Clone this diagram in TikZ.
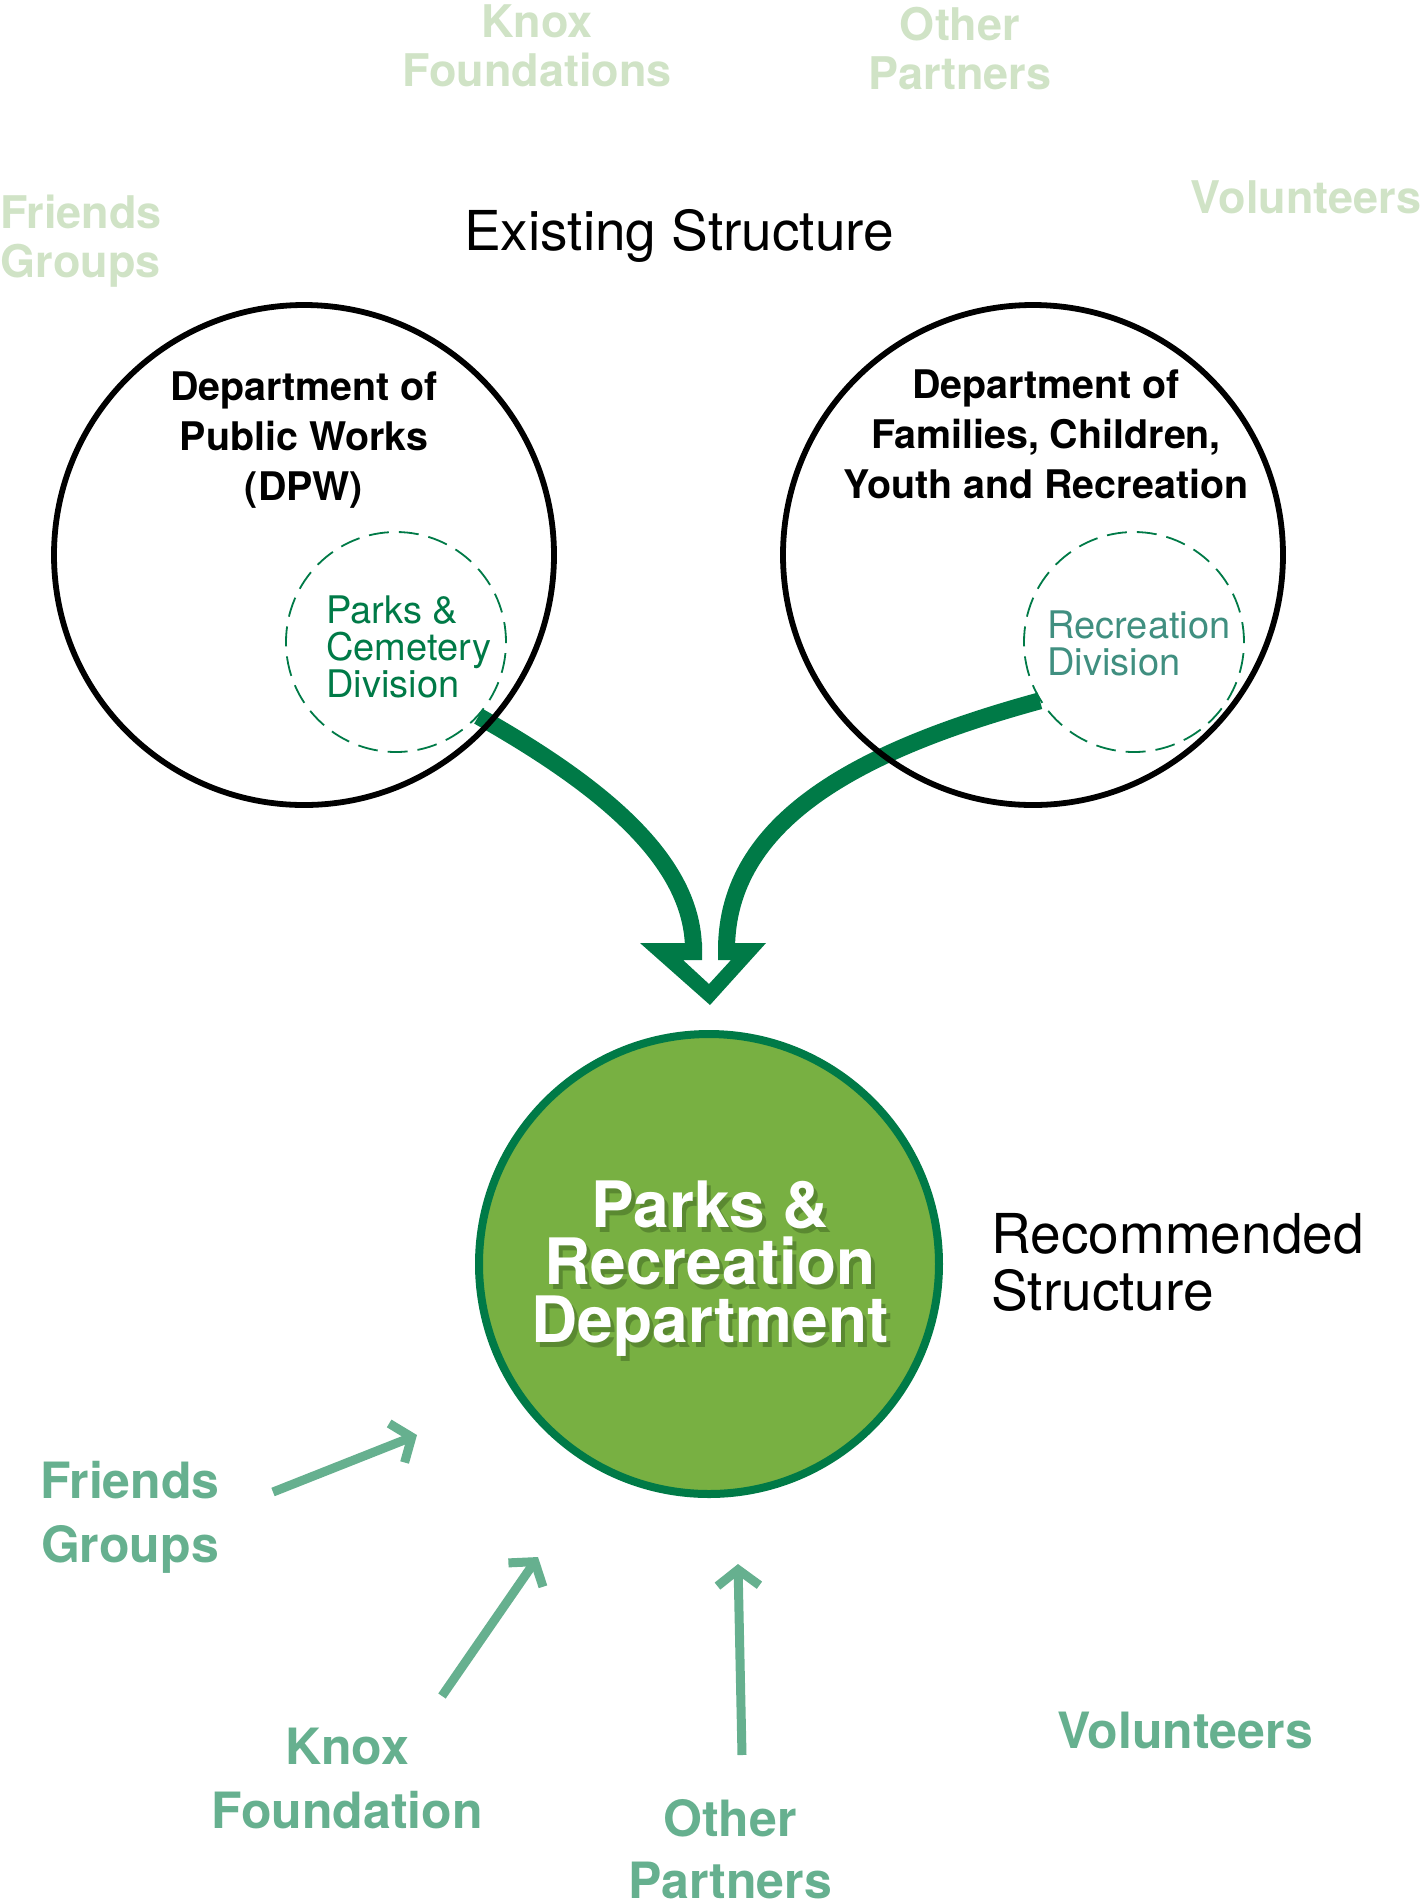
\documentclass[tikz,border=0pt]{standalone}
\usepackage{fontspec}
\setmainfont{TeX Gyre Heros}
\usetikzlibrary{arrows.meta}
\definecolor{darkgreen}{RGB}{0,122,71}
\definecolor{leafgreen}{RGB}{120,176,66}
\definecolor{sagegreen}{RGB}{102,176,143}
\definecolor{palegreen}{RGB}{208,227,198}
\definecolor{tealgreen}{RGB}{64,143,128}
\definecolor{shadegreen}{RGB}{55,90,30}

\tikzset{
  deptring/.style={circle,draw=black,line width=2.9pt,minimum size=250pt,inner sep=0pt},
  divring/.style={circle,draw=darkgreen,line width=0.9pt,dash pattern=on 10pt off 5pt,minimum size=110pt,inner sep=0pt},
  prdring/.style={circle,draw=darkgreen,fill=leafgreen,line width=4pt,minimum size=230pt,inner sep=0pt},
  merge/.style={darkgreen,line width=8.5pt,line cap=butt},
  feeder/.style={sagegreen,line width=4.5pt,-{Straight Barb[length=8pt,width=21pt,sharp]}},
  faded/.style={palegreen,font=\bfseries\fontsize{22.5}{24.5}\selectfont,align=center,anchor=base,inner sep=0pt},
  partner/.style={sagegreen,font=\bfseries\fontsize{25}{32}\selectfont,align=center,anchor=base,inner sep=0pt},
  depttext/.style={font=\bfseries\fontsize{19.7}{25}\selectfont,align=center,anchor=base,inner sep=0pt},
  divtext/.style={font=\fontsize{19}{18.5}\selectfont,align=left,anchor=base west,inner sep=0pt},
  prdtext/.style={font=\bfseries\fontsize{32}{28.75}\selectfont,align=center,anchor=base,inner sep=0pt},
  heading/.style={font=\fontsize{27.5}{28.5}\selectfont,inner sep=0pt}
}

\begin{document}
\begin{tikzpicture}[x=0.5pt,y=-0.5pt]
\useasboundingbox (0,0) rectangle (1427,1903);

\node[faded] (knoxold) at (537,86) {Knox\\Foundations};
\node[faded] (otherold) at (960,89) {Other\\Partners};
\node[faded] (friendsold) at (81,277) {Friends\\Groups};
\node[faded] (volold) at (1306,213) {Volunteers};
\node[heading,anchor=base] (exist) at (679,250) {Existing Structure};

\node[divring] (pcd) at (396,642) {};
\node[divring] (recdiv) at (1134,642) {};

\coordinate (inl) at (693.5,950);
\coordinate (inr) at (726.5,950);
\draw[merge] (pcd.-42) .. controls (600,785) and (693.5,860) .. (inl);
\draw[merge] (recdiv.212) .. controls (860,750) and (726.5,820) .. (inr);
\fill[darkgreen] (640,943) -- (702,943) -- (702,960) -- (683,960) -- (709,984)
  -- (731,960) -- (718,960) -- (718,943) -- (766,943) -- (710,1005) -- cycle;

\node[deptring] (dpw) at (304,555) {};
\node[deptring] (fcyr) at (1033,555) {};
\node[depttext] (dpwlabel) at (304,500) {Department of\\Public Works\\(DPW)};
\node[depttext] (fcyrlabel) at (1046,498) {Department of\\Families, Children,\\Youth and Recreation};
\node[divtext,darkgreen] (pcdlabel) at (326,697) {Parks \&\\Cemetery\\Division};
\node[divtext,tealgreen] (reclabel) at (1047,675) {Recreation\\Division};

\node[prdring] (prd) at (709,1264) {};
\node[prdtext,shadegreen,opacity=0.45] (prdshadow) at (714,1347) {Parks \&\\Recreation\\Department};
\node[prdtext,white] (prdlabel) at (710,1342) {Parks \&\\Recreation\\Department};
\node[heading,align=left,anchor=base west] (recom) at (991,1310) {Recommended\\Structure};

\node[partner] (friends) at (130,1562) {Friends\\Groups};
\node[partner] (knox) at (347,1828) {Knox\\Foundation};
\node[partner,font=\bfseries\fontsize{25}{31}\selectfont] (other) at (730,1898) {Other\\Partners};
\node[partner] (vol) at (1185,1748) {Volunteers};

\coordinate (fgtail) at (273,1492);
\coordinate (fghead) at (417,1435);
\coordinate (kftail) at (442,1696);
\coordinate (kfhead) at (538,1557);
\coordinate (optail) at (742,1755);
\coordinate (ophead) at (738,1564);
\draw[feeder] (fgtail) -- (fghead);
\draw[feeder] (kftail) -- (kfhead);
\draw[feeder] (optail) -- (ophead);
\end{tikzpicture}
\end{document}
